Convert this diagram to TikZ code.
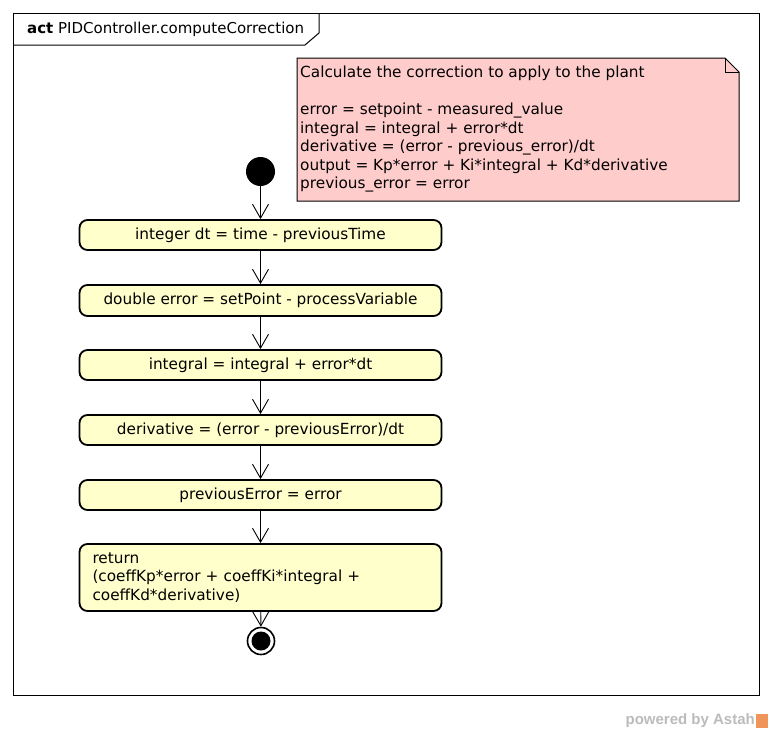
\documentclass[tikz,border=0pt]{standalone}
\usepackage{fontspec}
\setmainfont{DejaVu Sans}
\newfontfamily\wmfont{Liberation Sans}
\usetikzlibrary{arrows.meta}
\definecolor{actfill}{HTML}{FFFFCC}
\definecolor{notefill}{HTML}{FFCCCC}
\definecolor{wmgray}{HTML}{BBBBBB}
\definecolor{astahorange}{HTML}{F0955A}
\begin{document}
\begin{tikzpicture}[x=1pt,y=-1pt,
  every node/.style={font=\fontsize{15.3}{18.5}\selectfont},
  actbox/.style={draw, line width=1.8pt, rounded corners=8pt, fill=actfill,
     minimum width=362pt, minimum height=30pt, inner sep=0pt},
  flow/.style={line width=0.9pt, -{Straight Barb[length=14pt,width=16pt,line width=0.9pt]}},
]
\useasboundingbox (0,0) rectangle (772,734);
% frame
\draw[line width=1pt] (13,13) rectangle (759,695);
\draw[line width=1pt] (13,45) -- (305,45) -- (319,33) -- (319,13);
\node[anchor=west, inner sep=0pt, font=\fontsize{15}{18}\selectfont] (title) at (27,29) {\textbf{act} PIDController.computeCorrection};
% note
\draw[line width=1pt, fill=notefill] (297,58) -- (725,58) -- (739,72) -- (739,201) -- (297,201) -- cycle;
\draw[line width=1pt] (725,58) -- (725,72) -- (739,72);
\node[anchor=north west, align=left, inner sep=0pt] (note) at (300,66) {Calculate the correction to apply to the plant\\
\strut\\
error = setpoint - measured\_value\\
integral = integral + error*dt\\
derivative = (error - previous\_error)/dt\\
output = Kp*error + Ki*integral + Kd*derivative\\
previous\_error = error};
% nodes
\node[circle, fill=black, minimum size=29pt, inner sep=0pt] (init) at (260.5,171.5) {};
\node[actbox] (a1) at (260.5,235) {integer dt = time - previousTime};
\node[actbox, minimum height=31pt] (a2) at (260.5,300.5) {double error = setPoint - processVariable};
\node[actbox] (a3) at (260.5,365) {integral = integral + error*dt};
\node[actbox] (a4) at (260.5,430) {derivative = (error - previousError)/dt};
\node[actbox] (a5) at (260.5,495) {previousError = error};
\node[actbox, minimum height=67pt, align=left, text width=336pt, inner xsep=13pt] (a6) at (260.5,577.5) {return\\(coeffKp*error + coeffKi*integral +\\coeffKd*derivative)};
\node[circle, draw, line width=1.6pt, fill=white, minimum size=27pt, inner sep=0pt] (fin) at (261,641) {};
\fill (fin.center) circle (9.5pt);
% flows
\draw[flow] (init) -- (a1);
\draw[flow] (a1) -- (a2);
\draw[flow] (a2) -- (a3);
\draw[flow] (a3) -- (a4);
\draw[flow] (a4) -- (a5);
\draw[flow] (a5) -- (a6);
\draw[flow] (a6) -- (fin);
% watermark
\node[anchor=east, inner sep=0pt, text=wmgray, font=\wmfont\bfseries\fontsize{15}{17}\selectfont] (wm) at (755,721) {powered by Astah};
\fill[astahorange] (756,714) rectangle (768,728);
\end{tikzpicture}
\end{document}
